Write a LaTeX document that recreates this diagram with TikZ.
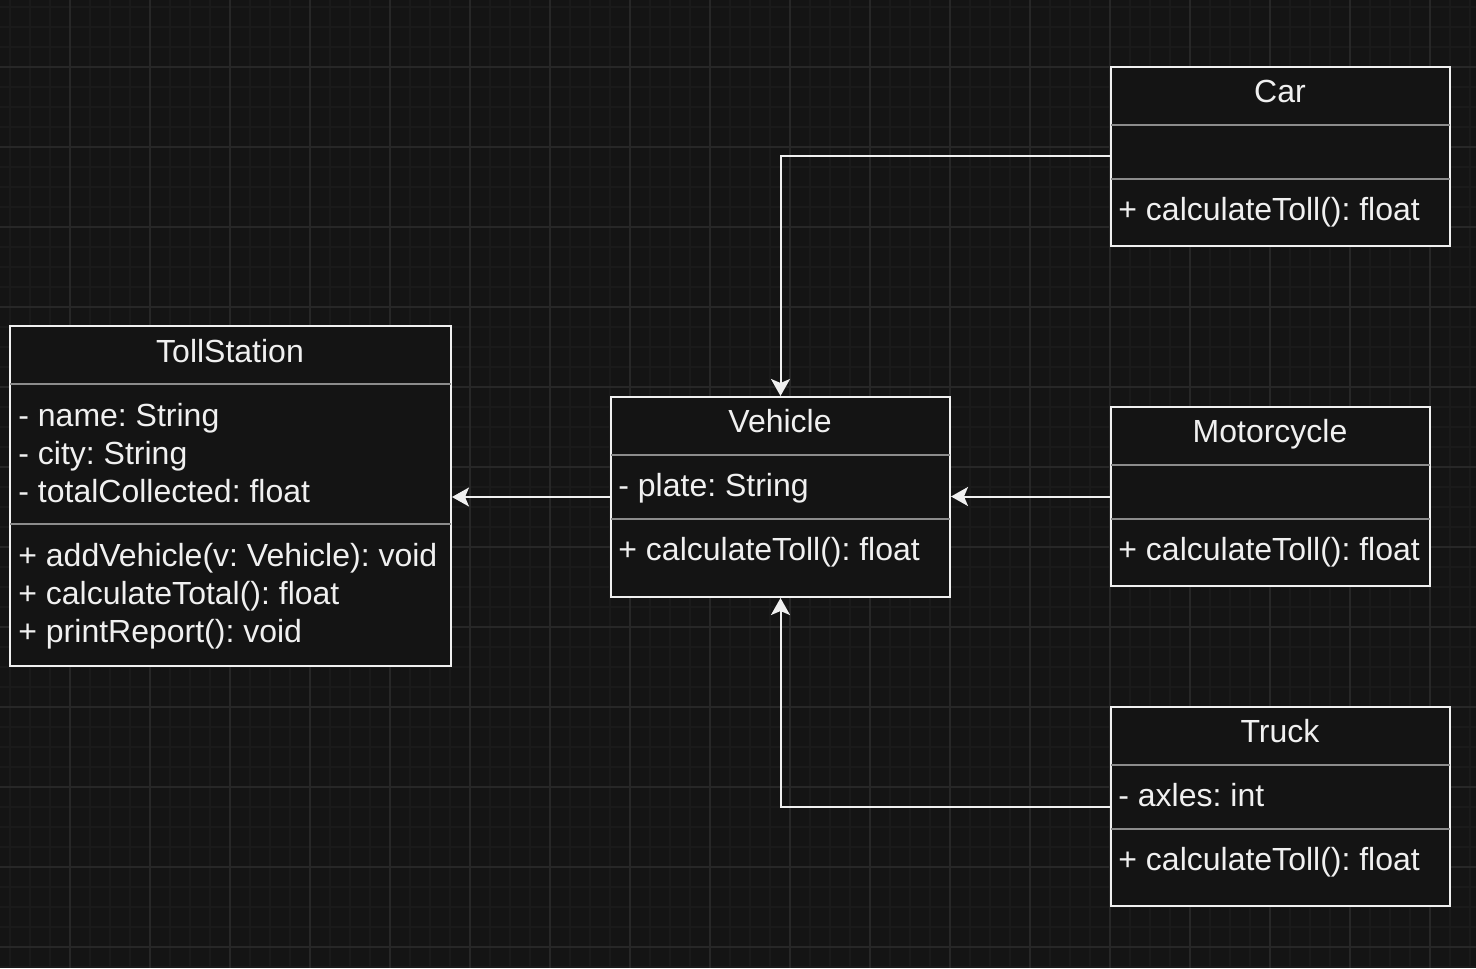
\documentclass[tikz,border=0pt]{standalone}
\usepackage{fontspec}
\setmainfont{Liberation Sans}
\usetikzlibrary{arrows.meta,fit}
\frenchspacing

\definecolor{canvas}{HTML}{141414}
\definecolor{gridminor}{HTML}{1A1A1A}
\definecolor{gridmajor}{HTML}{272727}
\definecolor{boxline}{HTML}{F0F0F0}
\definecolor{sepline}{HTML}{8C8C8C}
\definecolor{ink}{HTML}{F0F0F0}

\tikzset{
    classbox/.style={draw=boxline, fill=canvas, line width=1pt, inner sep=0pt},
    sep/.style={draw=sepline, line width=1pt},
    title/.style={inner sep=0pt, text height=11.5pt, text depth=0pt, text=ink},
    member/.style={title, anchor=west},
    assoc/.style={draw=boxline, line width=1pt, -{Stealth[length=8.5pt, width=9.5pt, inset=2pt]}}
}

\begin{document}
\begin{tikzpicture}[x=0.5pt, y=-0.5pt, font=\fontsize{16}{19}\selectfont]
        %%%%%%%% Sfondo %%%%%%%%%
        \useasboundingbox[fill=canvas] (0,0) rectangle (1476,968);
        \foreach \x in {10,30,...,1470}
            \draw[gridminor, line width=1pt] (\x,0) -- (\x,968);
        \foreach \y in {7,27,...,967}
            \draw[gridminor, line width=1pt] (0,\y) -- (1476,\y);
        \foreach \x in {70,150,...,1430}
            \draw[gridmajor, line width=1pt] (\x,0) -- (\x,968);
        \foreach \y in {67,147,...,947}
            \draw[gridmajor, line width=1pt] (0,\y) -- (1476,\y);

        %%%%%%%% Blocchi %%%%%%%%%
        \node[classbox, fit={(10,326) (451,666)}] (toll) {};
        \draw[sep] (10,384) -- (451,384);
        \draw[sep] (10,524) -- (451,524);

        \node[classbox, fit={(611,397) (950,597)}] (vehicle) {};
        \draw[sep] (611,455) -- (950,455);
        \draw[sep] (611,519) -- (950,519);

        \node[classbox, fit={(1111,67) (1450,246)}] (car) {};
        \draw[sep] (1111,125) -- (1450,125);
        \draw[sep] (1111,179) -- (1450,179);

        \node[classbox, fit={(1111,407) (1430,586)}] (moto) {};
        \draw[sep] (1111,465) -- (1430,465);
        \draw[sep] (1111,519) -- (1430,519);

        \node[classbox, fit={(1111,707) (1450,906)}] (truck) {};
        \draw[sep] (1111,765) -- (1450,765);
        \draw[sep] (1111,829) -- (1450,829);

        %%%%%%%% Testo %%%%%%%%%
        \node[title] (tolltitle) at (230,351) {TollStation};
        \node[member] (tollname) at (18,415) {- name: String};
        \node[member] (tollcity) at (18,453) {- city: String};
        \node[member] (tolltotal) at (18,491) {- totalCollected: float};
        \node[member] (tolladd) at (18,555) {+ addVehicle(v: Vehicle): void};
        \node[member] (tollcalc) at (18,593) {+ calculateTotal(): float};
        \node[member] (tollprint) at (18,631) {+ printReport(): void};

        \node[title] (vehtitle) at (780,421) {Vehicle};
        \node[member] (vehplate) at (618,485) {- plate: String};
        \node[member] (vehcalc) at (618,549) {+ calculateToll(): float};

        \node[title] (cartitle) at (1280,91) {Car};
        \node[member] (carcalc) at (1118,209) {+ calculateToll(): float};

        \node[title] (mototitle) at (1270,431) {Motorcycle};
        \node[member] (motocalc) at (1118,549) {+ calculateToll(): float};

        \node[title] (trucktitle) at (1280,731) {Truck};
        \node[member] (truckaxles) at (1118,795) {- axles: int};
        \node[member] (truckcalc) at (1118,859) {+ calculateToll(): float};

        %%%%%%%% Frecce %%%%%%%%%
        \draw[assoc] (vehicle.west |- 0,497) -- (toll.east |- 0,497);
        \draw[assoc] (moto.west) -- (vehicle.east |- moto.west);
        \draw[assoc] (car.west) -| (vehicle.north);
        \draw[assoc] (truck.west) -| (vehicle.south);

    \end{tikzpicture}
\end{document}
